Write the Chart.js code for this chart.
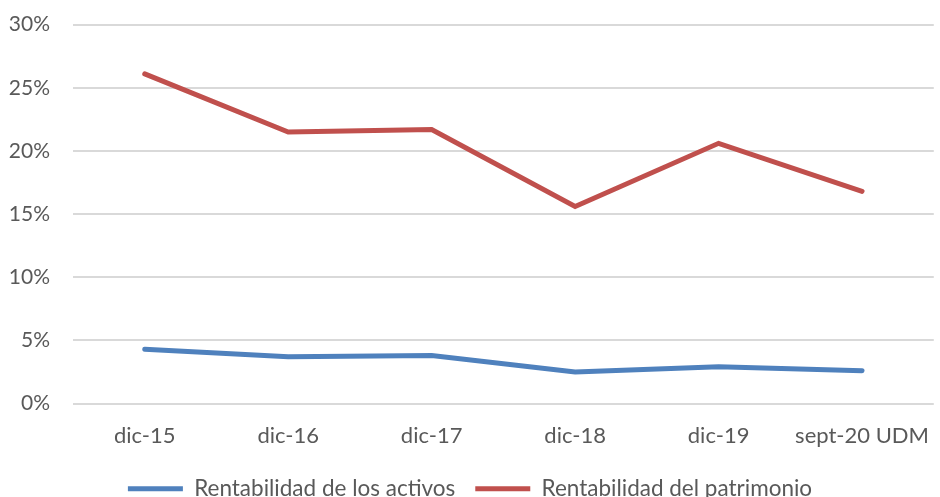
<!DOCTYPE html>
<html>
<head>
<meta charset="utf-8">
<script src="https://cdn.jsdelivr.net/npm/chart.js@4"></script>
<style>
  html, body { margin: 0; padding: 0; background: #fff; }
  #wrap { width: 940px; height: 497px; }
</style>
</head>
<body>
<div id="wrap"><canvas id="chart" width="940" height="497"></canvas></div>
<script>
// categories and series (percent)
const periods = ["dic-15", "dic-16", "dic-17", "dic-18", "dic-19", "sept-20 UDM"];
const roaValues = [4.3, 3.7, 3.8, 2.5, 2.9, 2.6];
const roeValues = [26.1, 21.5, 21.7, 15.6, 20.6, 16.8];
const seriesNames = ["Rentabilidad de los activos", "Rentabilidad del patrimonio"];
const seriesColors = ["#4f81bd", "#c0504d"];

const textColor = "#595959";
const fontFamily = "Lato, 'Open Sans', sans-serif";

const ctx = document.getElementById("chart").getContext("2d");
new Chart(ctx, {
  type: "line",
  data: {
    labels: periods,
    datasets: [
      { label: seriesNames[0], data: roaValues, borderColor: seriesColors[0], backgroundColor: seriesColors[0] },
      { label: seriesNames[1], data: roeValues, borderColor: seriesColors[1], backgroundColor: seriesColors[1] }
    ]
  },
  options: {
    responsive: false,
    animation: false,
    devicePixelRatio: 1,
    layout: { padding: { top: 0, right: 0, left: 0, bottom: -13 } },
    elements: {
      line: { borderWidth: 5, tension: 0, borderCapStyle: "round" },
      point: { radius: 0 }
    },
    scales: {
      x: {
        offset: true,
        grid: { display: false },
        border: { display: false },
        ticks: { color: textColor, font: { family: fontFamily, size: 22 }, padding: 11, maxRotation: 0 },
        afterFit: (scale) => { scale.height = 54; }
      },
      y: {
        min: 0,
        max: 30,
        ticks: {
          stepSize: 5,
          color: textColor,
          padding: 12,
          font: { family: fontFamily, size: 21 },
          callback: (v) => v + "%"
        },
        // invisible tick marks push the labels left without adding top padding
        grid: { color: "#d9d9d9", lineWidth: 2, drawTicks: true, tickLength: 11, tickColor: "rgba(0,0,0,0)" },
        border: { display: false },
        afterFit: (scale) => { scale.width = 73; }
      }
    },
    plugins: {
      tooltip: { enabled: false },
      legend: {
        position: "bottom",
        labels: {
          color: textColor,
          font: { family: fontFamily, size: 22.5 },
          boxWidth: 55,
          boxHeight: 5,
          padding: 20,
          generateLabels: (chart) => chart.data.datasets.map((ds, i) => ({
            text: ds.label,
            fillStyle: ds.borderColor,
            strokeStyle: ds.borderColor,
            lineWidth: 0,
            fontColor: textColor,
            datasetIndex: i
          }))
        }
      }
    }
  }
});
</script>
</body>
</html>
